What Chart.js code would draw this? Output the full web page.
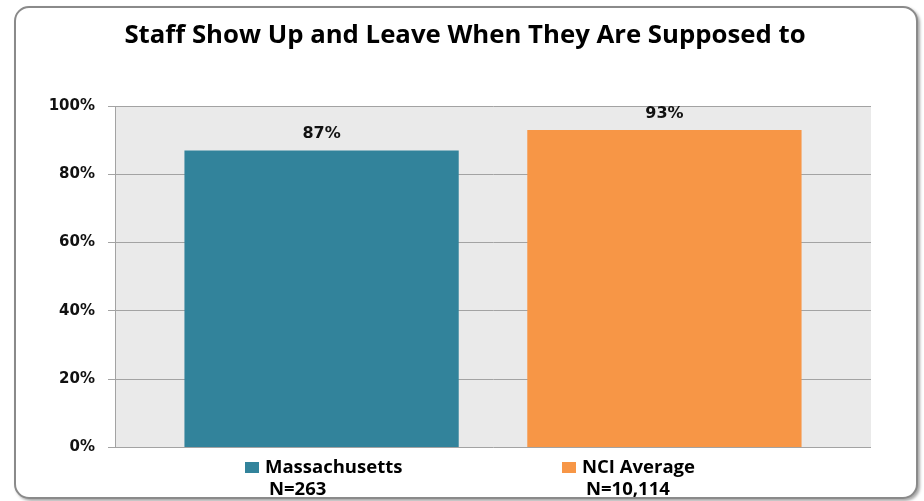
<!DOCTYPE html>
<html>
<head>
<meta charset="utf-8">
<script src="https://cdn.jsdelivr.net/npm/chart.js@4/dist/chart.umd.min.js"></script>
<style>
  html, body { margin: 0; padding: 0; background: #ffffff; }
  #wrap { position: relative; width: 924px; height: 501px; overflow: hidden; }
  #frame {
    position: absolute; left: 14px; top: 6px; width: 900px; height: 489px;
    border: 2px solid #8a8a8a; border-radius: 15px;
    box-shadow: 2px 2px 3px rgba(0,0,0,0.35);
    background: #ffffff;
  }
  #c { position: absolute; left: 0; top: 0; }
</style>
</head>
<body>
<div id="wrap">
  <div id="frame"></div>
  <canvas id="c" width="924" height="501"></canvas>
</div>
<script>
// ---- data ----
const chartTitle = "Staff Show Up and Leave When They Are Supposed to";
const seriesNames = ["Massachusetts", "NCI Average"];
const seriesValues = [87, 93];
const sampleSizes = ["N=263", "N=10,114"];
const seriesColors = ["#32839b", "#f79646"];
const yTicks = [0, 20, 40, 60, 80, 100];

const SANS = "'Open Sans', Lato, 'Liberation Sans', sans-serif";
const TICKFONT = "'DejaVu Sans', Verdana, sans-serif";

function fitFont(ctx, text, width, maxSize) {
  let size = maxSize;
  for (; size > 8; size -= 0.25) {
    ctx.font = "bold " + size + "px " + SANS;
    if (ctx.measureText(text).width <= width) break;
  }
  return size;
}

const decorPlugin = {
  id: 'decor',
  beforeDraw(chart) {
    const { ctx, chartArea: a } = chart;
    ctx.save();
    ctx.fillStyle = '#eaeaea';
    ctx.fillRect(a.left, a.top, a.right - a.left, a.bottom - a.top);
    ctx.restore();
  },
  afterDatasetsDraw(chart) {
    const ctx = chart.ctx;
    ctx.save();
    // value labels
    ctx.font = "bold 16px " + TICKFONT;
    ctx.fillStyle = '#111';
    ctx.textAlign = 'center';
    ctx.textBaseline = 'alphabetic';
    chart.data.datasets.forEach((ds, i) => {
      const bar = chart.getDatasetMeta(i).data[0];
      ctx.fillText(ds.data[0] + '%', bar.x, bar.y - 12);
    });
    // title
    const tSize = fitFont(ctx, chartTitle, 684, 30);
    ctx.font = "bold " + tSize + "px " + SANS;
    ctx.fillStyle = '#000';
    ctx.textAlign = 'center';
    ctx.fillText(chartTitle, 465, 43);
    // legend with N labels
    const lSize = fitFont(ctx, seriesNames[0], 138, 22);
    const itemX = [245, 562];
    chart.data.datasets.forEach((ds, i) => {
      const x = itemX[i];
      ctx.fillStyle = ds.backgroundColor;
      ctx.fillRect(x, 462, 14, 11);
      ctx.font = "bold " + lSize + "px " + SANS;
      ctx.fillStyle = '#000';
      ctx.textAlign = 'left';
      const tx = x + 20;
      ctx.fillText(ds.label, tx, 472.5);
      ctx.fillText(sampleSizes[i], tx + 4, 495);
    });
    ctx.restore();
  }
};

function build() {
  new Chart(document.getElementById('c'), {
    type: 'bar',
    data: {
      labels: [''],
      datasets: seriesNames.map((n, i) => ({
        label: n,
        data: [seriesValues[i]],
        backgroundColor: seriesColors[i],
        borderColor: seriesColors[i],
        borderWidth: 0,
        categoryPercentage: 0.907,
        barPercentage: 0.80
      }))
    },
    options: {
      responsive: false,
      animation: false,
      devicePixelRatio: 1,
      layout: { padding: { left: 0, right: 53, top: 106, bottom: 53.5 } },
      plugins: {
        legend: { display: false },
        title: { display: false },
        tooltip: { enabled: false }
      },
      scales: {
        x: { display: false },
        y: {
          min: 0, max: 100,
          afterFit(scale) { scale.width = 115; },
          afterBuildTicks(scale) { scale.ticks = yTicks.map(v => ({ value: v })); },
          ticks: {
            padding: 13,
            color: '#111',
            font: { family: TICKFONT, weight: 'bold', size: 15 },
            callback: v => v + '%'
          },
          grid: { color: '#a3a3a3', lineWidth: 1, tickLength: 7, drawTicks: true },
          border: { display: true, color: '#a3a3a3', width: 1 }
        }
      }
    },
    plugins: [decorPlugin]
  });
}

if (document.fonts && document.fonts.load) {
  Promise.all([
    document.fonts.load("bold 20px 'Open Sans'"),
    document.fonts.load("bold 16px 'DejaVu Sans'")
  ]).then(build, build);
} else {
  build();
}
</script>
</body>
</html>
